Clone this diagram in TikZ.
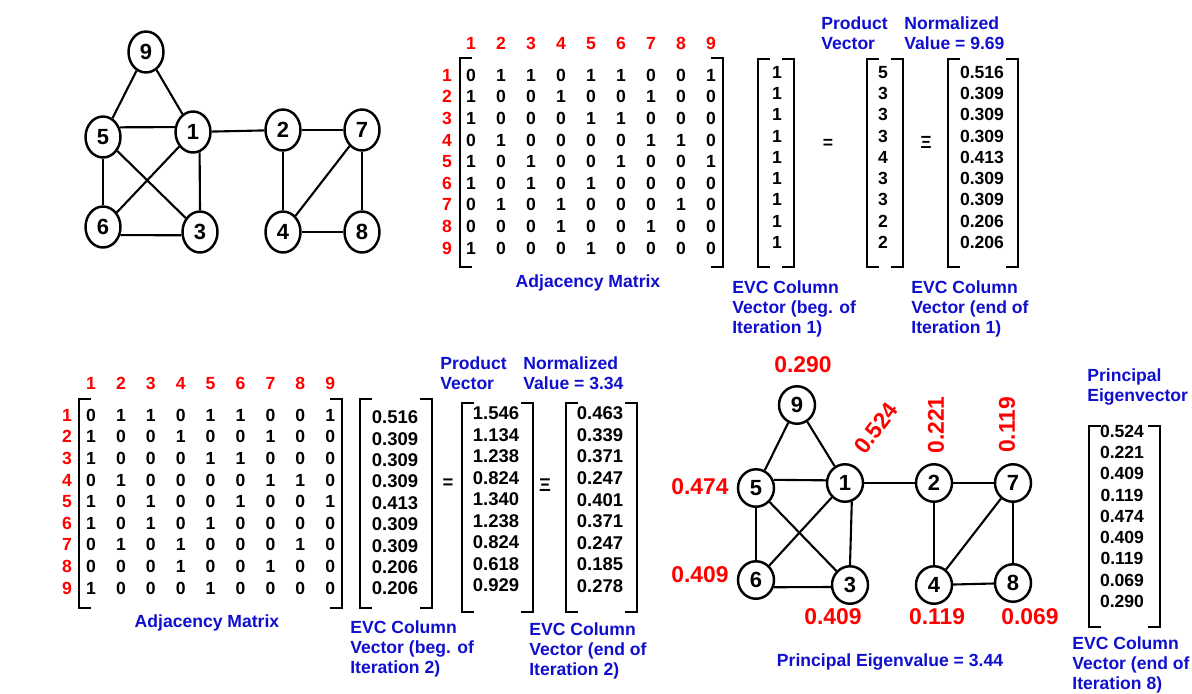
\documentclass[tikz,border=0pt]{standalone}
\usepackage{fontspec}
\setmainfont{Liberation Sans}
\usetikzlibrary{shapes.geometric}
\definecolor{evcred}{RGB}{255,0,0}
\definecolor{evcblue}{RGB}{15,15,205}
% rows of the adjacency matrix
\def\adjrows{{0,1,1,0,1,1,0,0,1},{1,0,0,1,0,0,1,0,0},{1,0,0,0,1,1,0,0,0},%
  {0,1,0,0,0,0,1,1,0},{1,0,1,0,0,1,0,0,1},{1,0,1,0,1,0,0,0,0},%
  {0,1,0,1,0,0,0,1,0},{0,0,0,1,0,0,1,0,0},{1,0,0,0,1,0,0,0,0}}
% square brackets: left x, right x, top y, bottom y
\newcommand{\brkpair}[4]{%
  \draw[brk] ({#1+12},#3) -| (#1,#4) -- ({#1+12},#4);
  \draw[brk] ({#2-12},#3) -| (#2,#4) -- ({#2-12},#4);}

\begin{document}
\begin{tikzpicture}[x=0.02cm, y=-0.02cm,
    vtx/.style={draw, ellipse, line width=1.4pt, minimum width=0.7cm,
                minimum height=0.82cm, inner sep=0pt,
                font=\fontsize{12.5}{14}\selectfont\bfseries},
    vtxb/.style={vtx, minimum width=0.72cm, minimum height=0.75cm},
    link/.style={line width=1.2pt},
    brk/.style={line width=1.3pt},
    cell/.style={inner sep=0pt, text height=7.2pt, text depth=0pt,
                 font=\fontsize{10}{11}\selectfont\bfseries},
    cellb/.style={inner sep=0pt, text height=7.6pt, text depth=0pt,
                  font=\fontsize{10.5}{12}\selectfont\bfseries},
    hdr/.style={cell, text=evcred},
    lbl/.style={inner sep=0pt, align=left, text=evcblue,
                font=\fontsize{10}{11.5}\selectfont\bfseries},
    wlbl/.style={inner sep=0pt, text=evcred, font=\fontsize{13}{15}\selectfont\bfseries},
  ]
  \useasboundingbox (0,0) rectangle (1192,693);

  % graph (top left)
  \node[vtx] (t9) at (146,52) {9};
  \node[vtx] (t5) at (103,137) {5};
  \node[vtx] (t1) at (193,132) {1};
  \node[vtx] (t2) at (283,130) {2};
  \node[vtx] (t7) at (362,130) {7};
  \node[vtx] (t6) at (103,227) {6};
  \node[vtx] (t3) at (200,232) {3};
  \node[vtx] (t4) at (283,232) {4};
  \node[vtx] (t8) at (362,232) {8};
  \foreach \a/\b in {9/5,9/1,1/2,2/7,5/6,5/3,1/6,2/4,7/4,7/8,4/8}
    \draw[link] (t\a) -- (t\b);
  \draw[link] (t5.30) -- (t1.165);
  \draw[link] (t6.-25) -- (t3.190);
  \draw[link] (t1.-72) -- (t3.north);

  % iteration 1
  \foreach \c in {1,...,9}
    \node[hdr] (th\c) at ({471+30*(\c-1)},43) {\c};
  \foreach \r in {1,...,9}
    \node[hdr] (tr\r) at (447,{75+21.6*(\r-1)}) {\r};
  \foreach \row [count=\r] in \adjrows
    \foreach \v [count=\c] in \row
      \node[cell] (ta-\r-\c) at ({471+30*(\c-1)},{75+21.6*(\r-1)}) {\v};
  \brkpair{460}{723}{58}{267}
  \node[lbl] (tadj) at (588,283) {Adjacency Matrix};

  \foreach \r in {1,...,9}
    \node[cell] (tb-\r) at (777,{72+21.25*(\r-1)}) {1};
  \brkpair{758}{794}{59}{267}
  \node[cell] (teq) at (828,142) {=};
  \foreach \v [count=\r] in {5,3,3,3,4,3,3,2,2}
    \node[cell] (tp-\r) at (883,{72+21.25*(\r-1)}) {\v};
  \brkpair{867}{903}{59}{267}
  \node[cell] (tequiv) at (926,142) {Ξ};
  \foreach \v [count=\r] in {0.516,0.309,0.309,0.309,0.413,0.309,0.309,0.206,0.206}
    \node[cell] (tn-\r) at (982,{72+21.25*(\r-1)}) {\v};
  \brkpair{948}{1018}{59}{267}

  \node[lbl, anchor=north west] (tprod) at (821,16) {Product\\Vector};
  \node[lbl, anchor=north west] (tnorm) at (904,16) {Normalized\\Value = 9.69};
  \node[lbl, anchor=north west] (tbeg) at (732,280) {EVC Column\\Vector (beg. of\\Iteration 1)};
  \node[lbl, anchor=north west] (tend) at (911,280) {EVC Column\\Vector (end of\\Iteration 1)};

  % iteration 2
  \foreach \c in {1,...,9}
    \node[hdr] (bh\c) at ({91+29.9*(\c-1)},383) {\c};
  \foreach \r in {1,...,9}
    \node[hdr] (br\r) at (67,{415+21.6*(\r-1)}) {\r};
  \foreach \row [count=\r] in \adjrows
    \foreach \v [count=\c] in \row
      \node[cell] (ba-\r-\c) at ({91+29.9*(\c-1)},{415+21.6*(\r-1)}) {\v};
  \brkpair{79}{342}{399}{608}
  \node[lbl] (badj) at (207,623) {Adjacency Matrix};

  \foreach \v [count=\r] in {0.516,0.309,0.309,0.309,0.413,0.309,0.309,0.206,0.206}
    \node[cellb] (bb-\r) at (395,{417+21.4*(\r-1)}) {\v};
  \brkpair{360}{432}{399}{608}
  \node[cellb] (beq) at (448,482) {=};
  \foreach \v [count=\r] in {1.546,1.134,1.238,0.824,1.340,1.238,0.824,0.618,0.929}
    \node[cellb] (bp-\r) at (496,{413+21.5*(\r-1)}) {\v};
  \brkpair{462}{533}{403}{612}
  \node[cellb] (bequiv) at (545,485) {Ξ};
  \foreach \v [count=\r] in {0.463,0.339,0.371,0.247,0.401,0.371,0.247,0.185,0.278}
    \node[cellb] (bn-\r) at (600,{413+21.6*(\r-1)}) {\v};
  \brkpair{566}{637}{403}{612}

  \node[lbl, anchor=north west] (bprod) at (440,356) {Product\\Vector};
  \node[lbl, anchor=north west] (bnorm) at (523,356) {Normalized\\Value = 3.34};
  \node[lbl, anchor=north west] (bbeg) at (350,620) {EVC Column\\Vector (beg. of\\Iteration 2)};
  \node[lbl, anchor=north west] (bend) at (529,622) {EVC Column\\Vector (end of\\Iteration 2)};

  % graph with final scores (bottom right)
  \node[vtxb] (b9) at (797,405) {9};
  \node[vtxb] (b5) at (756,488) {5};
  \node[vtxb] (b1) at (845,483) {1};
  \node[vtxb] (b2) at (934,483) {2};
  \node[vtxb] (b7) at (1013,483) {7};
  \node[vtxb] (b6) at (756,580) {6};
  \node[vtxb] (b3) at (850,585) {3};
  \node[vtxb] (b4) at (934,585) {4};
  \node[vtxb] (b8) at (1013,583) {8};
  \foreach \a/\b in {9/5,9/1,1/2,2/7,5/6,5/3,1/6,2/4,7/4,7/8,4/8}
    \draw[link] (b\a) -- (b\b);
  \draw[link] (b5.25) -- (b1.172);
  \draw[link] (b6.-22) -- (b3.186);
  \draw[link] (b1.-70) -- (b3.north);

  \node[wlbl] (w9) at (803,365) {0.290};
  \node[wlbl, rotate=53] (w1) at (876,428) {0.524};
  \node[wlbl, rotate=90] (w2) at (936,425) {0.221};
  \node[wlbl, rotate=90] (w7) at (1007,425) {0.119};
  \node[wlbl] (w5) at (700,487) {0.474};
  \node[wlbl] (w6) at (700,575) {0.409};
  \node[wlbl] (w3) at (833,617) {0.409};
  \node[wlbl] (w4) at (937,617) {0.119};
  \node[wlbl] (w8) at (1030,617) {0.069};
  \node[lbl] (eigval) at (890,662) {Principal Eigenvalue = 3.44};

  % principal eigenvector
  \node[lbl, anchor=north west] (pev) at (1087,368) {Principal\\Eigenvector};
  \foreach \v [count=\r] in {0.524,0.221,0.409,0.119,0.474,0.409,0.119,0.069,0.290}
    \node[cell] (pe-\r) at (1122,{431+21.25*(\r-1)}) {\v};
  \brkpair{1089}{1160}{426}{627}
  \node[lbl, anchor=north west] (pend) at (1072,636) {EVC Column\\Vector (end of\\Iteration 8)};
\end{tikzpicture}
\end{document}
